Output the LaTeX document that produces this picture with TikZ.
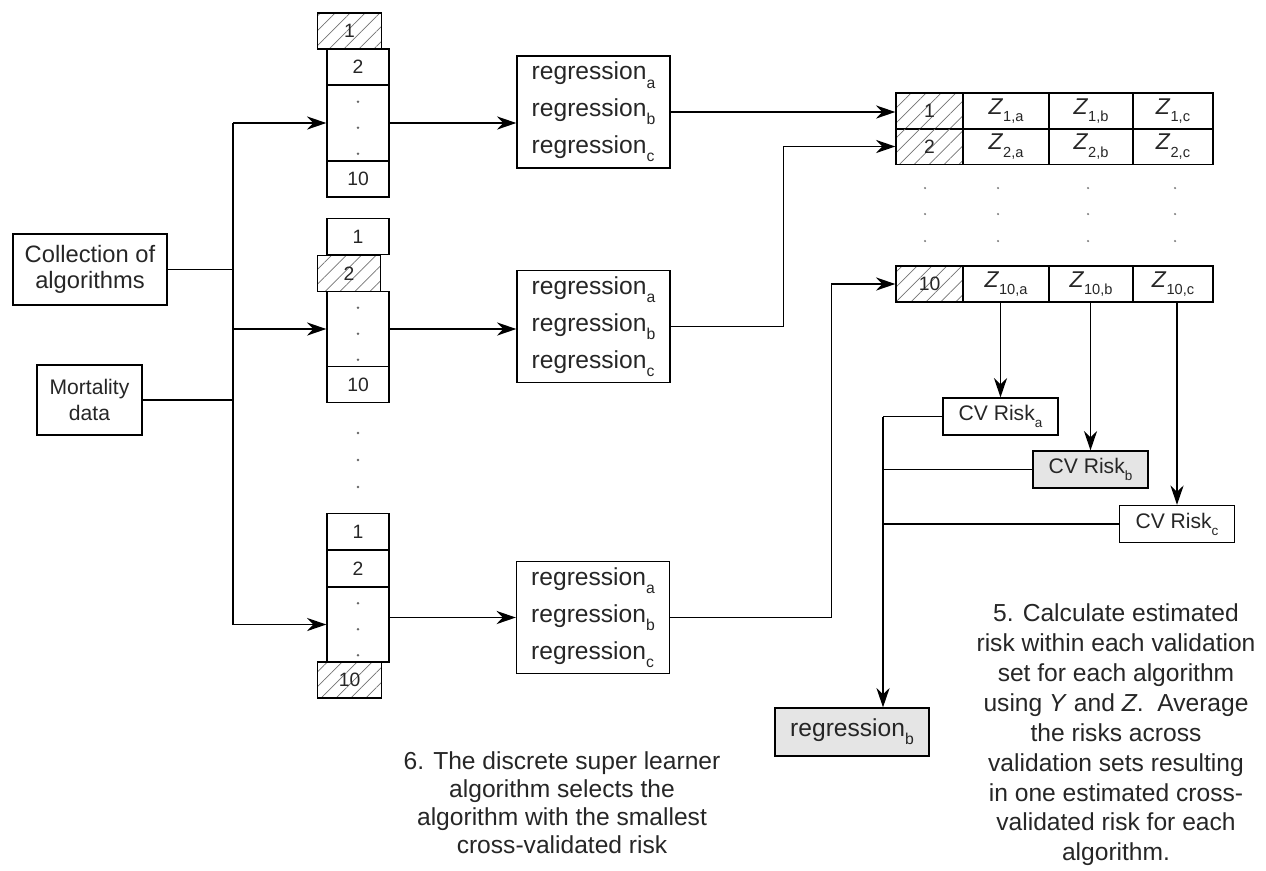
\documentclass[tikz,border=0pt]{standalone}
\usepackage{fontspec}
\setmainfont{Liberation Sans}
\usetikzlibrary{arrows.meta, patterns.meta}

% low subscript, as set in the figure
\newcommand{\lsub}[1]{\raisebox{-0.33em}{\fontsize{0.64em}{0.7em}\selectfont #1}}

\begin{document}
\begin{tikzpicture}[
    x=0.02cm, y=-0.02cm,
    line width=0.8pt,
    >={Stealth[length=11pt, width=7.5pt]},
    every node/.style={text=black!85},
    box/.style={draw, inner sep=0pt, align=center},
    cell/.style={box, minimum width=1.24cm, minimum height=0.72cm, font=\fontsize{11}{13}\selectfont},
    hatch/.style={pattern={Lines[angle=45, distance=6pt, line width=0.4pt]}, pattern color=black!55},
    hcell/.style={cell, hatch, minimum width=1.27cm},
    gap/.style={box, minimum width=1.24cm, minimum height=1.5cm},
    regbox/.style={box, align=left, minimum width=3.06cm, minimum height=2.24cm, font=\fontsize{14}{21}\selectfont},
    zcell/.style={box, minimum height=0.72cm, font=\fontsize{13}{15}\selectfont},
    risk/.style={box, minimum width=2.3cm, minimum height=0.74cm, font=\fontsize{12}{14}\selectfont},
    chosen/.style={fill=black!10},
    note/.style={align=center, font=\fontsize{14}{17}\selectfont}]

    \useasboundingbox (0,0) rectangle (1266,870);

    % inputs
    \node[box, minimum width=3.08cm, minimum height=1.42cm, font=\fontsize{13.5}{15}\selectfont] (coll) at (90,269.5) {Collection of\\ algorithms};
    \node[box, minimum width=2.1cm, minimum height=1.4cm, font=\fontsize{12}{14.5}\selectfont] (mort) at (89.5,400) {Mortality\\ data};

    % first split
    \node[hcell] (s1n1) at (349.5,31) {1};
    \node[cell] (s1n2) at (358,67) {2};
    \node[gap] (s1gap) at (358,123) {};
    \node[cell] (s1n10) at (358,179) {10};

    % second split
    \node[cell] (s2n1) at (358,236.5) {1};
    \node[hcell] (s2n2) at (349,273.5) {2};
    \node[gap] (s2gap) at (358,329) {};
    \node[cell] (s2n10) at (358,384.5) {10};

    % last split
    \node[cell] (s3n1) at (358,531.5) {1};
    \node[cell] (s3n2) at (358,568.5) {2};
    \node[gap] (s3gap) at (358,624.5) {};
    \node[hcell] (s3n10) at (349.5,680) {10};

    \foreach \g in {s1gap,s2gap,s3gap}
        \foreach \d in {0.34,0.86,1.38}
            \fill[black!60] ([yshift=-\d cm]\g.north) circle (0.8pt);
    \foreach \y in {433,460,487}
        \fill[black!60] (358,\y) circle (0.8pt);

    % data flow into the splits
    \coordinate (bus) at (233,123);
    \draw (bus) -- (233,624.5);
    \draw (coll.east) -- (coll.east -| bus);
    \draw (mort.east) -- (mort.east -| bus);
    \foreach \g in {s1gap,s2gap,s3gap}
        \draw[->] (\g.west -| bus) -- (\g.west);

    % fits on the training sets
    \node[regbox] (reg1) at (593.5,112) {regression\lsub{a}\\ regression\lsub{b}\\ regression\lsub{c}};
    \node[regbox] (reg2) at (593.5,326.5) {regression\lsub{a}\\ regression\lsub{b}\\ regression\lsub{c}};
    \node[regbox] (reg3) at (593,617.5) {regression\lsub{a}\\ regression\lsub{b}\\ regression\lsub{c}};

    \draw[->] (s1gap.east) -- (s1gap.east -| reg1.west);
    \draw[->] (s2gap.east) -- (s2gap.east -| reg2.west);
    \draw[->] (s3gap.east |- reg3.west) -- (reg3.west);

    % predictions on the validation sets
    \foreach \r/\y in {1/111, 2/146.5, 10/284} {
        \node[zcell, hatch, minimum width=1.34cm, font=\fontsize{11}{13}\selectfont] (idx\r) at (929.5,\y) {\r};
        \node[zcell, minimum width=1.72cm] (za\r) at (1006,\y) {\textit{Z}\lsub{\r,a}};
        \node[zcell, minimum width=1.68cm] (zb\r) at (1091,\y) {\textit{Z}\lsub{\r,b}};
        \node[zcell, minimum width=1.6cm] (zc\r) at (1173,\y) {\textit{Z}\lsub{\r,c}};
    }
    \foreach \x in {925,998,1088,1175}
        \foreach \y in {188,214,241}
            \fill[black!50] (\x,\y) circle (0.7pt);

    \draw[->] (reg1.east) -- (reg1.east -| idx1.west);
    \draw[->] (reg2.east) -- ++(113,0) |- (idx2.west);
    \draw[->] (reg3.east) -- ++(161,0) |- (idx10.west);

    % risks
    \node[risk] (cva) at (1000.5,416.5) {CV Risk\lsub{a}};
    \node[risk, chosen] (cvb) at (1090.5,469.5) {CV Risk\lsub{b}};
    \node[risk] (cvc) at (1177,524) {CV Risk\lsub{c}};

    \draw[->] (cva.north |- za10.south) -- (cva.north);
    \draw[->] (cvb.north |- zb10.south) -- (cvb.north);
    \draw[->] (cvc.north |- zc10.south) -- (cvc.north);

    % selection
    \node[box, chosen, minimum width=3.08cm, minimum height=0.96cm, font=\fontsize{14}{16}\selectfont] (best) at (852,732) {regression\lsub{b}};

    \coordinate (join) at (883,416.5);
    \draw (cva.west) -- (join);
    \draw (cvb.west) -- (cvb.west -| join);
    \draw (cvc.west) -- (cvc.west -| join);
    \draw[->] (join) -- (join |- best.north);

    % notes
    \node[note] (step5) at (1116,735) {5. Calculate estimated\\ risk within each validation\\ set for each algorithm\\ using \textit{Y} and \textit{Z}.\ \ Average\\ the risks across\\ validation sets resulting\\ in one estimated cross-\\ validated risk for each\\ algorithm.};
    \node[note, font=\fontsize{14}{16}\selectfont] (step6) at (562,803) {6. The discrete super learner\\ algorithm selects the\\ algorithm with the smallest\\ cross-validated risk};

\end{tikzpicture}
\end{document}
